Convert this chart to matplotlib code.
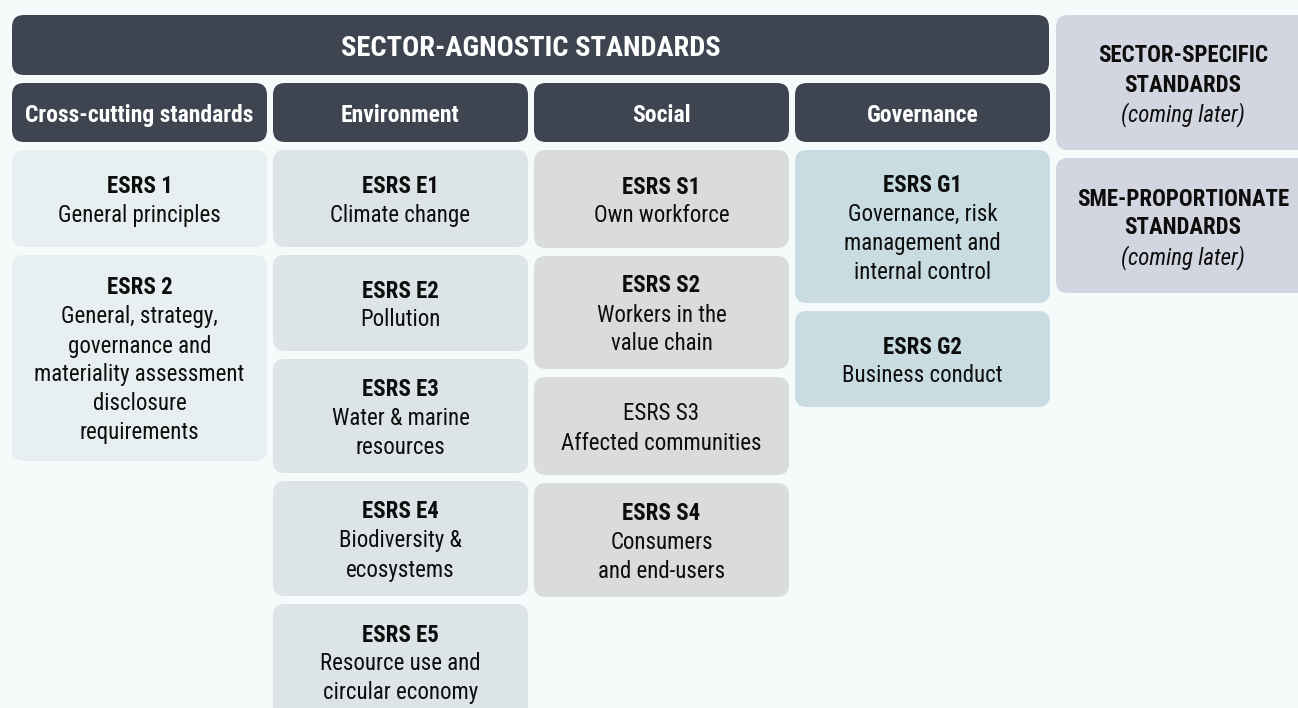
import matplotlib
matplotlib.use("Agg")
import matplotlib.pyplot as plt
from matplotlib.patches import FancyBboxPatch
from matplotlib import font_manager as fm

# --- content ---
title = "SECTOR-AGNOSTIC STANDARDS"
col_headers = ["Cross-cutting standards", "Environment", "Social", "Governance"]

col_codes = [
    ["ESRS 1", "ESRS 2"],
    ["ESRS E1", "ESRS E2", "ESRS E3", "ESRS E4", "ESRS E5"],
    ["ESRS S1", "ESRS S2", "ESRS S3", "ESRS S4"],
    ["ESRS G1", "ESRS G2"],
]
col_texts = [
    ["General principles",
     "General, strategy,\ngovernance and\nmateriality assessment\ndisclosure\nrequirements"],
    ["Climate change", "Pollution", "Water & marine\nresources",
     "Biodiversity &\necosystems", "Resource use and\ncircular economy"],
    ["Own workforce", "Workers in the\nvalue chain", "Affected communities",
     "Consumers\nand end-users"],
    ["Governance, risk\nmanagement and\ninternal control", "Business conduct"],
]
# codes printed in regular weight (ESRS S3 in the original)
plain_codes = ["ESRS S3"]

side_titles = ["SECTOR-SPECIFIC\nSTANDARDS", "SME-PROPORTIONATE\nSTANDARDS"]
side_note = "(coming later)"

# --- layout (pixels) ---
W, H = 1298, 708
col_left = [12, 273, 534, 795]
col_w = 255
col_heights = [
    [97, 206],
    [97, 96, 114, 115, 115],
    [98, 113, 98, 114],
    [153, 96],
]
box_top0 = 150
gap = 8
line_h = 29

bg = "#f5fbfb"
dark = "#3f4451"
col_colors = ["#e8eff1", "#dde4e7", "#dadbdd", "#c8dce2"]
side_color = "#d3d6e0"
ink = "#0d0d0d"


def pick_font(names):
    for n in names:
        try:
            fm.findfont(fm.FontProperties(family=n), fallback_to_default=False)
            return n
        except ValueError:
            pass
    return "DejaVu Sans"


font = pick_font(["Roboto Condensed", "Liberation Sans Narrow", "Arial Narrow",
                  "Roboto", "Liberation Sans"])
plt.rcParams["font.family"] = [font, "DejaVu Sans"]

fig = plt.figure(figsize=(W / 100, H / 100), dpi=100, facecolor=bg)
ax = fig.add_axes([0, 0, 1, 1])
ax.set_xlim(0, W)
ax.set_ylim(H, 0)
ax.axis("off")
ax.set_facecolor(bg)


def box(x, y, w, h, color, r=12):
    p = FancyBboxPatch((x, y), w, h, boxstyle=f"round,pad=0,rounding_size={r}",
                       fc=color, ec="none", lw=0)
    ax.add_patch(p)


def lines_in_box(x, y, w, h, lines, fs=16.5):
    # lines: list of (text, weight, style)
    n = len(lines)
    cy = y + h / 2
    y0 = cy - (n - 1) * line_h / 2
    for i, (t, wgt, sty) in enumerate(lines):
        ax.text(x + w / 2, y0 + i * line_h, t, ha="center", va="center_baseline",
                fontsize=fs, fontweight=wgt, fontstyle=sty, color=ink)


# header bars
box(12, 15, 1049 - 12, 60, dark)
ax.text((12 + 1049) / 2, 46, title, ha="center", va="center_baseline",
        fontsize=20.5, fontweight="bold", color="white")

for i, hd in enumerate(col_headers):
    box(col_left[i], 83, col_w, 59, dark)
    ax.text(col_left[i] + col_w / 2, 113, hd, ha="center", va="center_baseline",
            fontsize=17, fontweight="bold", color="white")

# standard boxes
for i in range(len(col_codes)):
    y = box_top0
    for code, txt, h in zip(col_codes[i], col_texts[i], col_heights[i]):
        box(col_left[i], y, col_w, h, col_colors[i])
        wgt = "normal" if code in plain_codes else "bold"
        lines = [(code, wgt, "normal")] + [(t, "normal", "normal") for t in txt.split("\n")]
        lines_in_box(col_left[i], y, col_w, h, lines)
        y += h + gap

# side boxes
side_y = [15, 158]
for t, y in zip(side_titles, side_y):
    box(1056, y, 254, 135, side_color)
    lines = [(s, "bold", "normal") for s in t.split("\n")] + [(side_note, "normal", "italic")]
    lines_in_box(1056, y, 254, 135, lines)

fig.savefig("out.png", dpi=100, facecolor=bg)
